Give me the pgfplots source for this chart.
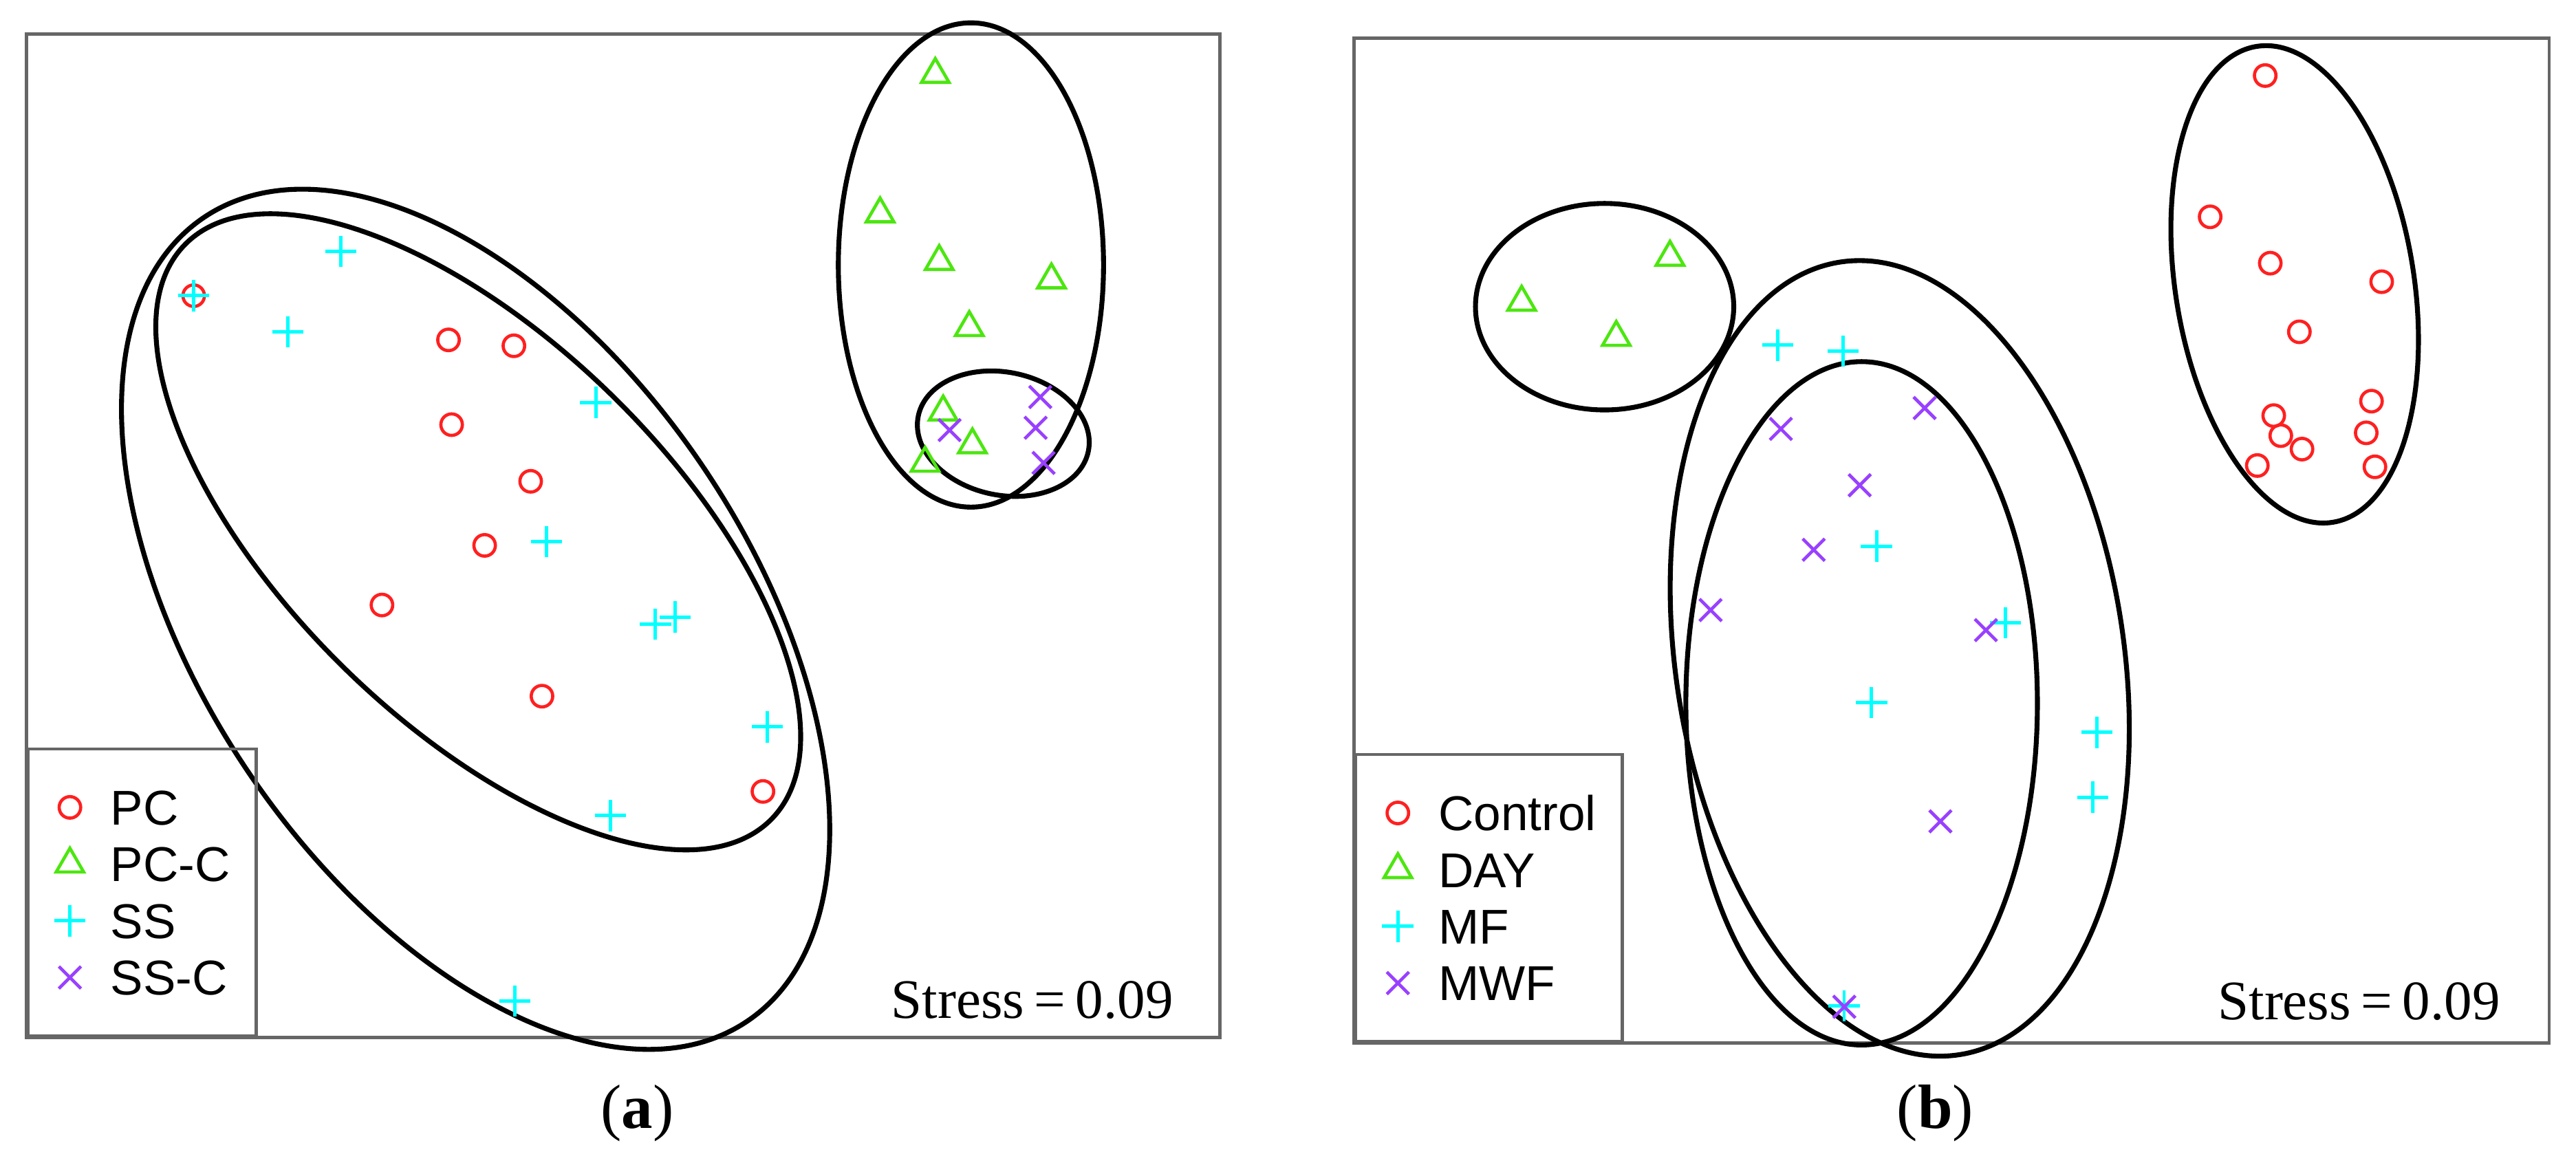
\documentclass[border=0pt]{standalone}
\usepackage{fontspec}
\setmainfont{Liberation Serif}
\setsansfont{Liberation Sans}
\usepackage{pgfplots}
\pgfplotsset{compat=1.18}
\definecolor{cred}{HTML}{FF2020}
\definecolor{cgreen}{HTML}{4CE610}
\definecolor{ccyan}{HTML}{00FFFF}
\definecolor{cpurple}{HTML}{9940FF}
\definecolor{boxgray}{HTML}{666666}
\pgfplotsset{
  nmds/.style={
    x=0.336pt, y=0.336pt, y dir=reverse,
    ticks=none, clip=false,
    axis line style={boxgray, line width=0.65pt},
    legend cell align=left,
    legend image code/.code={\draw[##1] plot coordinates {(0pt,0pt)};},
    legend style={anchor=south west, draw=boxgray, line width=0.65pt, fill=none,
      font=\sffamily\fontsize{10}{12}\selectfont,
      inner xsep=5.4pt, inner ysep=8.35pt, row sep=4.4pt, column sep=5.1pt,
      nodes={inner sep=0pt, text height=7.2pt, text depth=0pt}},
  },
}
\begin{document}
\begin{tikzpicture}
\path[use as bounding box] (-5.376pt,-23.32pt) rectangle (521.47pt,212.22pt);
% ---------------- panel (a)
\begin{axis}[nmds, at={(0pt,0pt)}, anchor=south west,
  xmin=16.0, xmax=742.5, ymin=20.7, ymax=631.6,
  legend style={at={(axis cs:16.0,631.6)}}]
\addplot[only marks, mark=o, mark size=2.2pt, cred, line width=0.65pt] coordinates {
 (117.9,180.0) (273.0,206.9) (312.8,210.5) (274.9,258.5) (323.0,293.0)
 (295.0,332.0) (232.5,368.3) (329.9,423.8) (464.4,481.8)};
\addlegendentry{PC}
\addplot[only marks, mark=triangle, mark size=3.25pt, cgreen, line width=0.65pt] coordinates {
 (569.3,45.3) (535.7,130.2) (571.7,159.2) (640.0,170.4) (590.0,199.4)
 (574.1,250.8) (591.9,270.8) (563.1,282.0)};
\addlegendentry{PC-C}
\addplot[only marks, mark=+, mark size=3.2pt, ccyan, line width=0.7pt] coordinates {
 (117.9,180.0) (207.5,153.0) (175.2,202.0) (362.6,245.0) (332.7,329.7)
 (399.0,380.0) (411.0,375.6) (467.0,442.5) (371.6,496.5) (313.4,609.4)};
\addlegendentry{SS}
\addplot[only marks, mark=x, mark size=3.2pt, cpurple, line width=0.65pt] coordinates {
 (633.2,241.7) (630.4,260.4) (635.2,281.8) (578.0,261.8)};
\addlegendentry{SS-C}
\draw[black, line width=1pt] (axis cs:289.5,377) ellipse [x radius=99.22pt, y radius=56.01pt, rotate=-55.9];
\draw[black, line width=1pt] (axis cs:291.1,323.75) ellipse [x radius=83.97pt, y radius=39.08pt, rotate=-44.4];
\draw[black, line width=1pt] (axis cs:591,161.3) ellipse [x radius=27.12pt, y radius=49.53pt];
\draw[black, line width=1pt] (axis cs:610.7,264) ellipse [x radius=17.76pt, y radius=12.57pt, rotate=-11.8];
\node[anchor=base east, inner sep=0pt, font=\fontsize{11.4}{13}\selectfont] at (axis cs:714.8,619.8) {Stress\hspace{0.18em}=\hspace{0.18em}0.09};
\node[anchor=base, inner sep=0pt, font=\fontsize{12.8}{14}\selectfont] at (axis cs:388,686.7) {(\textbf{a})};
\end{axis}
% ---------------- panel (b)
\begin{axis}[nmds, at={(271.59pt,-1.14pt)}, anchor=south west,
  xmin=824.3, xmax=1551.7, ymin=23.3, ymax=635.0,
  legend style={at={(axis cs:824.3,635.0)}}]
\addplot[only marks, mark=o, mark size=2.2pt, cred, line width=0.65pt] coordinates {
 (1378.8,46.0) (1345.3,132.0) (1381.9,160.2) (1449.7,171.5) (1399.6,202.0)
 (1443.5,244.2) (1384.0,253.0) (1440.3,263.5) (1388.3,265.2) (1401.2,273.4)
 (1374.0,283.4) (1445.6,284.2)};
\addlegendentry{Control}
\addplot[only marks, mark=triangle, mark size=3.25pt, cgreen, line width=0.65pt] coordinates {
 (1016.5,156.6) (926.2,184.0) (983.8,205.4)};
\addlegendentry{DAY}
\addplot[only marks, mark=+, mark size=3.2pt, ccyan, line width=0.7pt] coordinates {
 (1082.1,210.1) (1121.9,213.8) (1142.2,332.5) (1220.7,379.1) (1139.2,427.7)
 (1276.3,445.8) (1273.9,485.3) (1122.5,612.3)};
\addlegendentry{MF}
\addplot[only marks, mark=x, mark size=3.2pt, cpurple, line width=0.65pt] coordinates {
 (1084.0,261.1) (1171.5,248.4) (1132.0,295.4) (1104.0,334.7) (1041.2,371.4)
 (1208.8,383.6) (1181.1,500.0) (1122.6,612.9)};
\addlegendentry{MWF}
\draw[black, line width=1pt] (axis cs:976.7,186.7) ellipse [x radius=26.41pt, y radius=21.12pt];
\draw[black, line width=1pt] (axis cs:1396.75,173.1) ellipse [x radius=49.29pt, y radius=24.39pt, rotate=-80.91];
\draw[black, line width=1pt] (axis cs:1156.35,400.8) ellipse [x radius=81.98pt, y radius=45.86pt, rotate=-81.53];
\draw[black, line width=1pt] (axis cs:1133.15,428.15) ellipse [x radius=35.95pt, y radius=69.89pt];
\node[anchor=base east, inner sep=0pt, font=\fontsize{11.4}{13}\selectfont] at (axis cs:1522.4,620.5) {Stress\hspace{0.18em}=\hspace{0.18em}0.09};
\node[anchor=base, inner sep=0pt, font=\fontsize{12.8}{14}\selectfont] at (axis cs:1178,687) {(\textbf{b})};
\end{axis}
\end{tikzpicture}
\end{document}
